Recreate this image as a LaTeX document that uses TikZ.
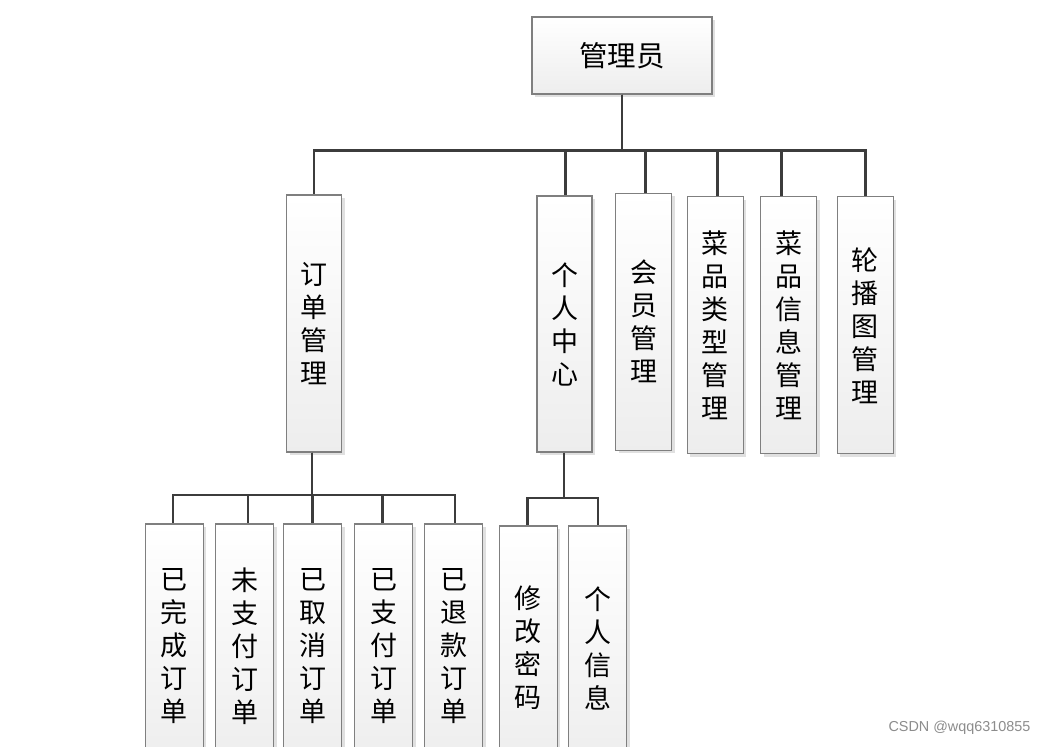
\documentclass[tikz,border=0pt]{standalone}
\usepackage{fontspec}
\newfontfamily\cjk{Noto Sans CJK SC}
\newfontfamily\wm{Liberation Sans}
\usetikzlibrary{shadows}
\definecolor{boxline}{HTML}{7F7F7F}
\definecolor{conn}{HTML}{3C3C3C}
\tikzset{
  box/.style={draw=boxline, line width=1.2pt, top color=white, bottom color=black!7,
    inner sep=0pt, align=center, font=\cjk\fontsize{27}{33}\selectfont,
    drop shadow={shadow xshift=3pt, shadow yshift=-3pt, fill=black!12, opacity=1}},
  vbox/.style={box, minimum width=55pt, minimum height=257pt, text width=55pt},
  lbox/.style={box, minimum width=58pt, minimum height=244pt, text width=58pt},
  link/.style={draw=conn, line width=2.5pt}
}
\begin{document}
\begin{tikzpicture}[x=1pt,y=-1pt]
\useasboundingbox (0,0) rectangle (1048,746);
\clip (0,0) rectangle (1048,746);
\fill[white] (0,0) rectangle (1048,746);
% root
\node[box, minimum width=180pt, minimum height=77pt, font=\cjk\fontsize{28.5}{30}\selectfont] (root) at (622,55.5) {管理员};
% level 2
\node[vbox] (o) at (314.2,323.5) {订\\单\\管\\理};
\node[vbox, minimum height=256pt] (p) at (564.5,324) {个\\人\\中\\心};
\node[vbox, minimum width=56pt, text width=56pt] (m) at (643.7,321.7) {会\\员\\管\\理};
\node[vbox, minimum width=56pt, text width=56pt] (t) at (715.3,325.3) {菜\\品\\类\\型\\管\\理};
\node[vbox, minimum width=56pt, text width=56pt] (i) at (788.7,325.3) {菜\\品\\信\\息\\管\\理};
\node[vbox, minimum width=56pt, text width=56pt] (l) at (865.3,325.3) {轮\\播\\图\\管\\理};
% level 3 orders
\node[lbox] (a1) at (174.2,646) {已\\完\\成\\订\\单};
\node[lbox] (a2) at (244.8,646) {未\\支\\付\\订\\单};
\node[lbox] (a3) at (312.7,646) {已\\取\\消\\订\\单};
\node[lbox] (a4) at (383.5,646) {已\\支\\付\\订\\单};
\node[lbox] (a5) at (453.7,646) {已\\退\\款\\订\\单};
% level 3 personal
\node[lbox] (b1) at (528.2,648) {修\\改\\密\\码};
\node[lbox] (b2) at (597.8,648) {个\\人\\信\\息};
% connectors level 1
\draw[link] (root.south) -- ++(0,56) -| ([xshift=0pt]o.north);
\draw[link] (root.south) -- ++(0,56) -| ([xshift=1pt]p.north);
\draw[link] (root.south) -- ++(0,56) -| ([xshift=2pt]m.north);
\draw[link] (root.south) -- ++(0,56) -| ([xshift=2.4pt]t.north);
\draw[link] (root.south) -- ++(0,56) -| ([xshift=-7pt]i.north);
\draw[link] (root.south) -- ++(0,56) -| ([xshift=0.4pt]l.north);
% connectors orders
\draw[link] ([xshift=-2pt]o.south) -- ++(0,42.3) -| ([xshift=-1pt]a1.north);
\draw[link] ([xshift=-2pt]o.south) -- ++(0,42.3) -| ([xshift=3pt]a2.north);
\draw[link] ([xshift=-2pt]o.south) -- ++(0,42.3) -| ([xshift=-0.4pt]a3.north);
\draw[link] ([xshift=-2pt]o.south) -- ++(0,42.3) -| ([xshift=-1.2pt]a4.north);
\draw[link] ([xshift=-2pt]o.south) -- ++(0,42.3) -| ([xshift=1.3pt]a5.north);
% connectors personal
\draw[link] ([xshift=-0.5pt]p.south) -- ++(0,45.3) -| ([xshift=-0.5pt]b1.north);
\draw[link] ([xshift=-0.5pt]p.south) -- ++(0,45.3) -| (b2.north);
% watermark
\node[text=black!45, font=\wm\fontsize{14.4}{16}\selectfont, anchor=east] (wmk) at (1034,728) {CSDN @wqq6310855};
\end{tikzpicture}
\end{document}
